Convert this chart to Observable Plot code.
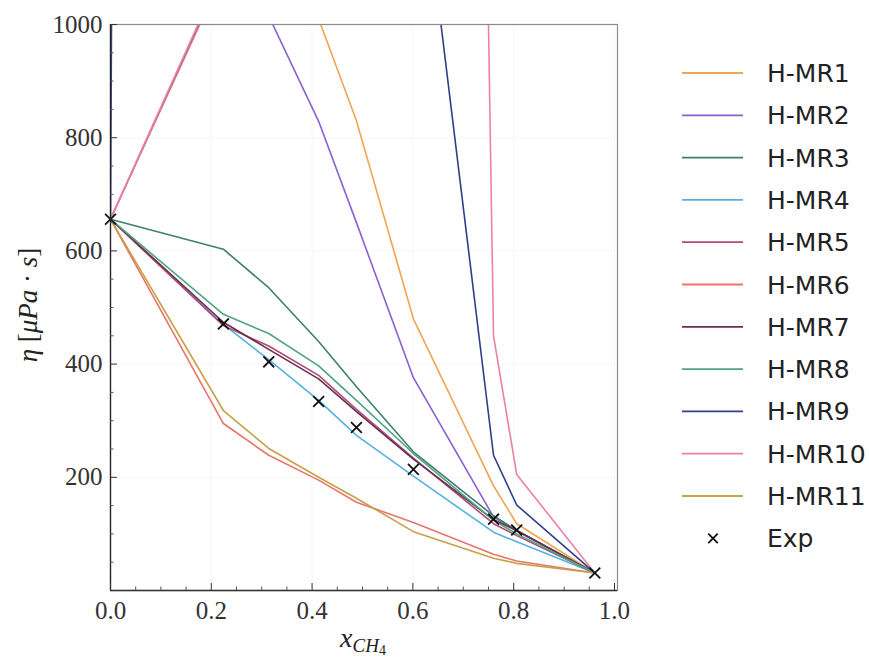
<!DOCTYPE html>
<html><head><meta charset="utf-8">
<script src="https://cdn.jsdelivr.net/npm/d3@7"></script>
<script src="https://cdn.jsdelivr.net/npm/@observablehq/plot@0.6"></script>
<style>
body{margin:0;background:#fff;}
#wrap{position:relative;width:869px;height:657px;overflow:hidden;}
#wrap svg{position:absolute;left:0;top:0;}
</style></head><body><div id="wrap"></div>
<script>
// ---- data ----
const xCH4 = [0, 0.224, 0.314, 0.413, 0.488, 0.601, 0.760, 0.806, 0.961];
const hmr1  = [656, 1090, 1160, 1010, 830, 480, 185, 118, 31];
const hmr2  = [656, 1095, 1015, 829, 650, 376, 130, 105, 31];
const hmr3  = [656, 603, 535, 440, 360, 245, 132, 106, 31];
const hmr4  = [656, 470, 408, 336, 274, 202, 103, 86, 31];
const hmr5  = [656, 468, 432, 380, 320, 234, 118, 97, 31];
const hmr6  = [656, 295, 239, 195, 156, 120, 64, 52, 31];
const hmr7  = [656, 474, 426, 374, 316, 232, 125, 106, 31];
const hmr8  = [656, 488, 454, 397, 336, 242, 124, 100, 31];
const hmr9  = [656, 40000, 30000, 20000, 10000, 1400, 239, 151, 31];
const hmr10 = [656, 1100, 2000, 4000, 6000, 9200, 450, 205, 31];
const hmr11 = [656, 318, 251, 200, 163, 104, 57, 48, 31];
const expX = [0, 0.224, 0.314, 0.413, 0.488, 0.601, 0.760, 0.806, 0.961];
const expY = [656, 471, 404, 334, 288, 214, 126, 107, 31];

const seriesNames = ["H-MR1","H-MR2","H-MR3","H-MR4","H-MR5","H-MR6","H-MR7","H-MR8","H-MR9","H-MR10","H-MR11"];
const seriesValues = [hmr1,hmr2,hmr3,hmr4,hmr5,hmr6,hmr7,hmr8,hmr9,hmr10,hmr11];
const seriesColors = ["#f0a555","#8c5fd0","#3f7f6e","#55b2df","#b04a7a","#e8746e","#6a2f4f","#4fa580","#2e3f8a","#f07fa8","#c8a046"];

const xTicks = [0, 0.2, 0.4, 0.6, 0.8, 1.0];
const xMinor = [0.05,0.1,0.15,0.25,0.3,0.35,0.45,0.5,0.55,0.65,0.7,0.75,0.85,0.9,0.95];
const yTicks = [200, 400, 600, 800, 1000];
const yMinor = [50,100,150,250,300,350,450,500,550,650,700,750,850,900,950];

// ---- build tables ----
const rows = [];
seriesNames.forEach((name, i) => seriesValues[i].forEach((v, j) => rows.push({series: name, x: xCH4[j], y: v})));
const expRows = expX.map((x, i) => ({x, y: expY[i]}));

const SERIF = "Liberation Serif";
const W = 869, H = 657;
const plot = Plot.plot({
  width: W, height: H,
  marginLeft: 110, marginRight: 252, marginTop: 24, marginBottom: 67,
  style: {fontFamily: SERIF, fontSize: "25px", background: "transparent", color: "#222", overflow: "visible"},
  x: {domain: [0, 1.006]},
  y: {domain: [0, 1000]},
  color: {domain: seriesNames, range: seriesColors},
  marks: [
    Plot.gridX(xTicks, {stroke: "#000", strokeOpacity: 0.035}),
    Plot.gridY(yTicks, {stroke: "#000", strokeOpacity: 0.035}),
    Plot.line(rows, {x: "x", y: "y", z: "series", stroke: "series", strokeWidth: 1.6, clip: true}),
    Plot.dot(expRows, {x: "x", y: "y", symbol: "times", r: 5, stroke: "#111", strokeWidth: 1.8}),
    Plot.frame({stroke: "#8a8a8a", strokeWidth: 1.2}),
    Plot.ruleX([0], {stroke: "#222", strokeWidth: 1.3}),
    Plot.ruleY([0], {stroke: "#333", strokeWidth: 1.3}),
    Plot.axisX(xTicks, {tickSize: 0, tickPadding: 11, tickFormat: d3.format(".1f"), label: null, fontFamily: SERIF, fontSize: 25, fill: "#333"}),
    Plot.axisY(yTicks, {tickSize: 0, tickPadding: 8, tickFormat: d3.format("d"), label: null, fontFamily: SERIF, fontSize: 25, fill: "#333"}),
    Plot.axisX(xTicks, {tickSize: 7, dy: -7, fill: "none", stroke: "#333", label: null}),
    Plot.axisX(xMinor, {tickSize: 3.5, dy: -3.5, fill: "none", stroke: "#555", label: null}),
    Plot.axisY(yTicks, {tickSize: 7, dx: 7, fill: "none", stroke: "#333", label: null}),
    Plot.axisY(yMinor, {tickSize: 3.5, dx: 3.5, fill: "none", stroke: "#555", label: null})
  ]
});
const wrap = document.getElementById("wrap");
wrap.appendChild(plot);

// ---- axis titles ----
const svg = d3.select(plot);
const xl = svg.append("text").attr("x", 363).attr("y", 647).attr("text-anchor", "middle")
  .attr("font-family", SERIF).attr("font-size", 28).attr("fill", "#222");
xl.append("tspan").attr("font-style", "italic").text("x");
xl.append("tspan").attr("font-style", "italic").attr("font-size", 19).attr("dy", 5).text("CH");
xl.append("tspan").attr("font-size", 14).attr("dy", 3).text("4");

const yl = svg.append("text").attr("transform", "translate(37,305) rotate(-90)").attr("text-anchor", "middle")
  .attr("font-family", SERIF).attr("font-size", 27).attr("fill", "#222");
yl.append("tspan").attr("font-style", "italic").text("η");
yl.append("tspan").text(" [");
yl.append("tspan").attr("font-style", "italic").text("μPa");
yl.append("tspan").text(" · ");
yl.append("tspan").attr("font-style", "italic").text("s");
yl.append("tspan").text("]");

// ---- legend ----
const leg = d3.select(wrap).append("svg").attr("width", W).attr("height", H).style("pointer-events", "none");
seriesNames.forEach((n, i) => {
  const y = 73 + i * 42.3;
  leg.append("line").attr("x1", 682).attr("x2", 743).attr("y1", y).attr("y2", y)
    .attr("stroke", seriesColors[i]).attr("stroke-width", 1.8);
  leg.append("text").attr("x", 767).attr("y", y).attr("dy", "0.36em")
    .attr("font-family", "DejaVu Sans").attr("font-size", 25).attr("fill", "#222").text(n);
});
const ey = 73 + seriesNames.length * 42.3;
leg.append("path").attr("transform", `translate(713,${ey})`)
  .attr("d", d3.symbol(d3.symbolTimes, 60)()).attr("stroke", "#111").attr("stroke-width", 1.8).attr("fill", "none");
leg.append("text").attr("x", 767).attr("y", ey).attr("dy", "0.36em")
  .attr("font-family", "DejaVu Sans").attr("font-size", 25).attr("fill", "#222").text("Exp");
</script></body></html>
